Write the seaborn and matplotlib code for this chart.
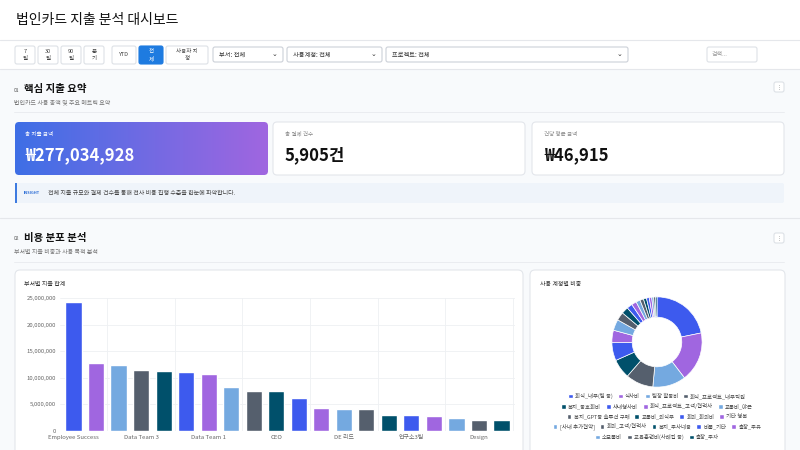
import numpy as np
import matplotlib
matplotlib.use("Agg")
import matplotlib.pyplot as plt
import seaborn as sns
from matplotlib.patches import FancyBboxPatch, Rectangle
from matplotlib.ticker import FuncFormatter

sns.set_theme(style="white")
plt.rcParams['font.family'] = ['Noto Sans CJK KR', 'DejaVu Sans']

# 부서별 지출 합계 (원)
departments = ["Employee Success", "Sales Team", "Data Team 2", "Data Team 3", "Marketing",
               "Product", "Data Team 1", "HR", "Finance", "CEO", "Platform", "QA",
               "DE 리드", "Infra", "Legal", "연구소3팀", "연구소1팀", "Ops", "Design", "CS"]
dept_spend = [24.2, 12.7, 12.5, 11.4, 11.2, 11.1, 10.7, 8.2, 7.6, 7.5,
              6.2, 4.3, 4.1, 4.1, 3.1, 3.0, 2.8, 2.5, 2.1, 2.0]
dept_spend = [v * 1e6 for v in dept_spend]

# 사용 계정별 비중 (%)
accounts = ["회식_내부(팀 등)", "식사비", "팀장 활동비", "회식_프로젝트_내부직원", "복지_동호회비",
            "사내행사비", "회식_프로젝트_고객/협력사", "교통비_야근", "복지_GPT등 솔루션 구매",
            "교통비_외식부", "회의_회의비", "기타 행복", "[사내 추가협약]", "회의_고객/협력사",
            "복지_주사네용", "비품_기타", "출장_주유", "소모품비", "교육훈련비(사례집 등)", "출장_주차"]
account_share = [22.0, 18.0, 12.0, 10.0, 7.0, 6.5, 4.5, 4.0, 3.0, 2.5,
                 2.0, 1.8, 1.5, 1.3, 1.1, 1.0, 0.9, 0.7, 0.6, 0.6]
legend_rows = [4, 4, 4, 5, 3]

palette = ["#3D5AEE", "#A066E0", "#74A9E0", "#555F6D", "#00506B"]

fig = plt.figure(figsize=(8, 4.5), dpi=100)
fig.patch.set_facecolor("#F8FAFC")
bg = fig.add_axes([0, 0, 1, 1])
bg.set_xlim(0, 800); bg.set_ylim(450, 0); bg.axis("off")


def box(x, y, w, h, fc="white", ec="#E3E6EB", r=4, lw=0.8, z=1):
    p = FancyBboxPatch((x, y), w, h, boxstyle=f"round,pad=0,rounding_size={r}",
                       fc=fc, ec=ec, lw=lw, zorder=z)
    bg.add_patch(p)
    return p


# header
bg.add_patch(Rectangle((0, 0), 800, 40, fc="white", ec="none"))
bg.plot([0, 800], [40, 40], color="#E5E7EB", lw=0.8)
bg.text(16, 20, "법인카드 지출 분석 대시보드", fontsize=10, va="center", color="#111")
bg.add_patch(Rectangle((0, 41), 800, 28, fc="white", ec="none"))

# filter bar
btns = [(15, 20, "7\n일"), (38, 20, "30\n일"), (61, 20, "90\n일"), (84, 20, "분\n기"),
        (112, 24, "YTD"), (139, 24, "전\n체"), (166, 42, "사용자 지\n정")]
for x, w, t in btns:
    active = t.startswith("전")
    box(x, 46, w, 18, fc="#1E7BE0" if active else "white",
        ec="#1E7BE0" if active else "#DDE1E6", r=2, z=2)
    bg.text(x + w / 2, 55, t, fontsize=4.0, ha="center", va="center",
            color="white" if active else "#444", linespacing=1.3, zorder=3)
for x, w, t in [(213, 70, "부서: 전체"), (287, 95, "사용계정: 전체"), (386, 242, "프로젝트: 전체")]:
    box(x, 47, w, 15, ec="#CCD1D8", r=2, z=2)
    bg.text(x + 6, 54.5, t, fontsize=4.5, va="center", color="#333", zorder=3)
    bg.text(x + w - 6, 54.5, "⌄", fontsize=5, va="center", ha="right", color="#333", zorder=3)
box(707, 47, 50, 15, ec="#DDE1E6", r=2, z=2)
bg.text(712, 54.5, "검색...", fontsize=4.3, va="center", color="#999", zorder=3)
bg.plot([0, 800], [69, 69], color="#E5E7EB", lw=0.8)

# section 1
bg.text(14, 90, "01", fontsize=3.5, va="center", color="#555")
bg.text(24, 89, "핵심 지출 요약", fontsize=7.5, va="center", weight="bold", color="#111")
bg.text(14, 103, "법인카드 사용 총액 및 주요 메트릭 요약", fontsize=4.3, va="center", color="#777")
box(774, 82, 10, 10, ec="#DDE1E6", r=2)
bg.text(779, 87, "⋮", fontsize=4, ha="center", va="center", color="#888")
bg.plot([14, 784], [112, 112], color="#E8EAEE", lw=0.6)

card = box(15, 122, 253, 53, fc="none", ec="none", r=4, z=2)
grad = np.linspace(0, 1, 256).reshape(1, -1)
im = bg.imshow(grad, extent=(15, 268, 175, 122), aspect="auto", zorder=2,
               cmap=matplotlib.colors.LinearSegmentedColormap.from_list("g", ["#3E6FE6", "#A066E0"]))
im.set_clip_path(card)
bg.text(25, 134, "총 지출 금액", fontsize=4, va="center", color="white", zorder=3)
bg.text(25, 155, "₩277,034,928", fontsize=12, va="center", weight="bold", color="white", zorder=3)
for x, lab, val in [(273, "총 결제 건수", "5,905건"), (532, "건당 평균 금액", "₩46,915")]:
    box(x, 122, 252, 53, r=4)
    bg.text(x + 12, 134, lab, fontsize=4, va="center", color="#888")
    bg.text(x + 12, 155, val, fontsize=12, va="center", weight="bold", color="#111")

box(15, 183, 769, 20, fc="#EFF4FA", ec="none", r=2)
bg.add_patch(Rectangle((15, 183), 1.5, 20, fc="#3E7BE0", ec="none", zorder=2))
bg.text(24, 193, "INSIGHT", fontsize=2.8, va="center", color="#2F6FD6", weight="bold")
bg.text(48, 193, "전체 지출 규모와 결제 건수를 통해 전사 비용 집행 수준을 한눈에 파악합니다.",
        fontsize=4.3, va="center", color="#444")
bg.plot([0, 800], [218, 218], color="#E5E7EB", lw=0.8)

# section 2
bg.text(14, 239, "02", fontsize=3.5, va="center", color="#555")
bg.text(24, 238, "비용 분포 분석", fontsize=7.5, va="center", weight="bold", color="#111")
bg.text(14, 252, "부서별 지출 비중과 사용 목적 분석", fontsize=4.3, va="center", color="#777")
box(774, 233, 10, 10, ec="#DDE1E6", r=2)
bg.text(779, 238, "⋮", fontsize=4, ha="center", va="center", color="#888")
bg.plot([14, 784], [262, 262], color="#E8EAEE", lw=0.6)

box(15, 270, 508, 190, r=5)
box(530, 270, 255, 190, r=5)
bg.text(24, 284, "부서별 지출 합계", fontsize=4.3, va="center", color="#333")
bg.text(540, 284, "사용 계정별 비중", fontsize=4.3, va="center", color="#333")

# bar chart
ax = fig.add_axes([60 / 800, 1 - 431 / 450, 455 / 800, (431 - 298) / 450])
sns.barplot(x=list(range(len(dept_spend))), y=dept_spend, hue=list(range(len(dept_spend))),
            palette=[palette[i % 5] for i in range(len(dept_spend))], legend=False,
            width=0.72, saturation=1, ax=ax)
ax.set_ylim(0, 25e6)
ax.set_yticks(np.arange(0, 25e6 + 1, 5e6))
ax.yaxis.set_major_formatter(FuncFormatter(lambda v, _: f"{int(v):,}"))
ax.set_xticks(range(0, len(departments), 3))
ax.set_xticklabels(departments[::3])
ax.tick_params(labelsize=4.3, colors="#666", length=0, pad=3)
ax.grid(axis="y", color="#EEF0F3", lw=0.6)
for xv in np.arange(1.5, len(departments), 3):
    ax.axvline(xv, color="#EEF0F3", lw=0.6, zorder=0)
ax.set_axisbelow(True)
for s in ax.spines.values():
    s.set_visible(False)
ax.set_xlim(-0.6, len(departments) - 0.4)
ax.set_facecolor("none")

# donut
ax2 = fig.add_axes([611 / 800, 1 - 388 / 450, 92 / 800, 92 / 450])
cols = [palette[i % 5] for i in range(len(account_share))]
ax2.pie(account_share, colors=cols, startangle=90, counterclock=False, radius=1.0,
        wedgeprops=dict(width=0.45, edgecolor="white", linewidth=0.5))
ax2.set_xlim(-1.02, 1.02); ax2.set_ylim(-1.02, 1.02)
ax2.set_aspect("equal")

# legend, one row at a time (row-wise like the reference)
start = 0
for r, n in enumerate(legend_rows):
    idx = range(start, start + n)
    start += n
    handles = [Rectangle((0, 0), 1, 1, fc=cols[i]) for i in idx]
    leg = fig.legend(handles, [accounts[i] for i in idx], loc="center",
                     bbox_to_anchor=(657 / 800, 1 - (396 + r * 10.2) / 450),
                     ncol=n, fontsize=3.9, frameon=False, handlelength=0.9, handleheight=0.9,
                     columnspacing=0.9, handletextpad=0.4, borderpad=0)
    for t in leg.get_texts():
        t.set_color("#444")

fig.savefig("out.png", dpi=100, facecolor=fig.get_facecolor())
